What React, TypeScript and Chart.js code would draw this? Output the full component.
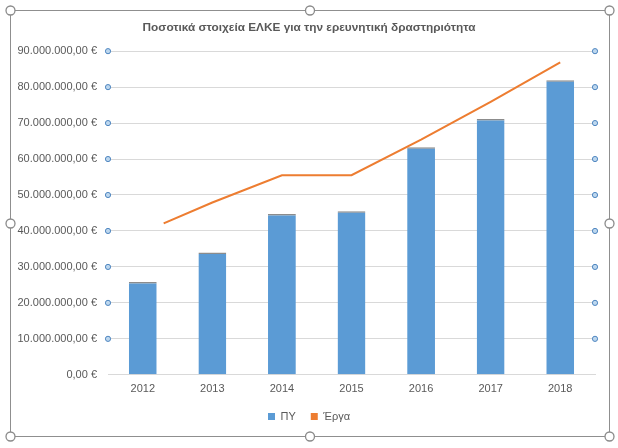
import React, { useEffect, useRef } from "react";
import { Chart, registerables } from "chart.js";

Chart.register(...registerables);

const categories = ["2012", "2013", "2014", "2015", "2016", "2017", "2018"];
const pyValues = [25800000, 34000000, 44700000, 45500000, 63300000, 71100000, 81900000];
// The Έργα line in the reference begins a little to the right of the 2012 category centre
const ergaYears = [2012.3, 2013, 2014, 2015, 2016, 2017, 2018];
const ergaValues = [42100000, 47900000, 55500000, 55500000, 65400000, 75900000, 86900000];
const yTicks = [0, 10000000, 20000000, 30000000, 40000000, 50000000, 60000000, 70000000, 80000000, 90000000];

const FONT = "'Liberation Sans', Arial, sans-serif";
const TEXT = "#595959";

function formatEuro(v: number): string {
  const s = Math.round(v).toString();
  const withDots = s.replace(/\B(?=(\d{3})+(?!\d))/g, ".");
  return withDots + ",00 €";
}

const decorPlugin = {
  id: "decor",
  afterDraw(chart: any) {
    const ctx = chart.ctx as CanvasRenderingContext2D;
    const area = chart.chartArea;
    const yScale = chart.scales.y;
    ctx.save();
    yScale.ticks.forEach((t: any) => {
      if (t.value === 0) return;
      const y = yScale.getPixelForValue(t.value);
      [area.left, area.right].forEach((x: number) => {
        ctx.beginPath();
        ctx.arc(x, y, 2.6, 0, Math.PI * 2);
        ctx.fillStyle = "#bdd7ee";
        ctx.fill();
        ctx.lineWidth = 1;
        ctx.strokeStyle = "#4f86c0";
        ctx.stroke();
      });
    });
    const L = 10.5, T = 10.5, R = chart.width - 8.5, B = chart.height - 11.5;
    ctx.strokeStyle = "#8f8f8f";
    ctx.lineWidth = 1;
    ctx.strokeRect(L, T, R - L, B - T);
    const mx = (L + R) / 2, my = (T + B) / 2;
    const pts = [[L, T], [mx, T], [R, T], [L, my], [R, my], [L, B], [mx, B], [R, B]];
    pts.forEach(([x, y]) => {
      ctx.beginPath();
      ctx.arc(x, y, 4.5, 0, Math.PI * 2);
      ctx.fillStyle = "#ffffff";
      ctx.fill();
      ctx.lineWidth = 1.3;
      ctx.strokeStyle = "#8a8a8a";
      ctx.stroke();
    });
    ctx.restore();
  },
};

export default function App() {
  const ref = useRef<HTMLCanvasElement>(null);
  useEffect(() => {
    if (!ref.current) return;
    const firstYear = Number(categories[0]);
    const lastYear = Number(categories[categories.length - 1]);
    const chart = new Chart(ref.current, {
      data: {
        labels: categories,
        datasets: [
          {
            type: "bar",
            label: "ΠΥ",
            data: pyValues,
            backgroundColor: "#5b9bd5",
            borderColor: "#8c8c8c",
            borderWidth: { top: 1.5, left: 0, right: 0, bottom: 0 },
            borderSkipped: false,
            barPercentage: 0.4,
            categoryPercentage: 1,
            grouped: false,
            order: 2,
          },
          {
            type: "line",
            label: "Έργα",
            xAxisID: "x2",
            data: ergaYears.map((yr, i) => ({ x: yr, y: ergaValues[i] })),
            borderColor: "#ed7d31",
            backgroundColor: "#ed7d31",
            borderWidth: 2.1,
            pointRadius: 0,
            tension: 0,
            order: 1,
          },
        ],
      } as any,
      options: {
        animation: false,
        responsive: false,
        devicePixelRatio: 1,
        layout: { padding: { left: 0, right: 0, top: 21, bottom: 16 } },
        plugins: {
          title: {
            display: true,
            text: "Ποσοτικά στοιχεία ΕΛΚΕ για την ερευνητική δραστηριότητα",
            color: TEXT,
            font: { family: FONT, size: 11.8, weight: "bold" },
            padding: { top: 0, bottom: 16 },
          },
          legend: {
            position: "bottom",
            labels: {
              color: TEXT,
              font: { family: FONT, size: 11 },
              boxWidth: 7,
              boxHeight: 7,
              padding: 15,
              generateLabels: (c: any) =>
                c.data.datasets.map((d: any, i: number) => ({
                  text: d.label,
                  fillStyle: d.type === "bar" ? d.backgroundColor : d.borderColor,
                  strokeStyle: "rgba(0,0,0,0)",
                  lineWidth: 0,
                  datasetIndex: i,
                  fontColor: TEXT,
                })),
            },
          },
          tooltip: { enabled: false },
        },
        scales: {
          x: {
            grid: { display: false },
            border: { display: true, color: "#d9d9d9" },
            ticks: { color: TEXT, font: { family: FONT, size: 11 }, padding: 0 },
          },
          x2: {
            type: "linear",
            display: false,
            min: firstYear - 0.5,
            max: lastYear + 0.5,
          },
          y: {
            min: 0,
            max: 90000000,
            afterBuildTicks: (s: any) => {
              s.ticks = yTicks.map((v) => ({ value: v }));
            },
            afterFit: (s: any) => {
              s.width = 108;
            },
            grid: { color: "#d9d9d9", drawTicks: false },
            border: { display: false },
            ticks: {
              color: TEXT,
              font: { family: FONT, size: 11 },
              padding: 11,
              callback: (v: any) => formatEuro(Number(v)),
            },
          },
          yRight: {
            position: "right",
            display: true,
            min: 0,
            max: 90000000,
            grid: { display: false, drawOnChartArea: false },
            border: { display: false },
            ticks: { display: false },
            afterFit: (s: any) => {
              s.width = 23;
            },
          },
        },
      } as any,
      plugins: [decorPlugin],
    });
    return () => chart.destroy();
  }, []);
  return (
    <div style={{ position: "fixed", left: 0, top: 0, width: 618, height: 448, background: "#fff" }}>
      <canvas ref={ref} width={618} height={448} style={{ width: 618, height: 448 }} />
    </div>
  );
}
